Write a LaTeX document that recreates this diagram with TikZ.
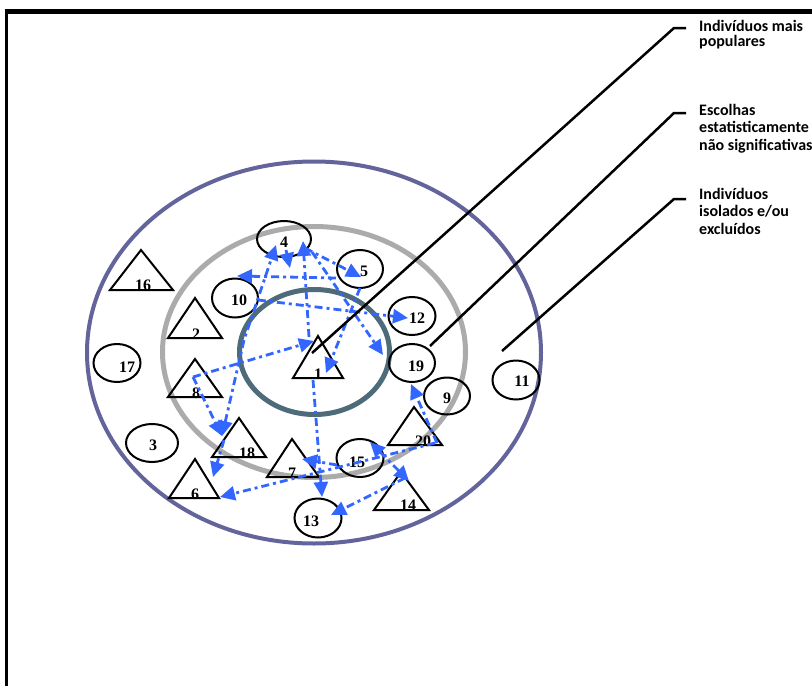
\documentclass[tikz,border=0pt]{standalone}
\usepackage{fontspec}
\setmainfont{Liberation Serif}
\newfontfamily\legfont{Carlito}
\usetikzlibrary{arrows.meta,calc,shapes.geometric}
\definecolor{ringout}{HTML}{64649C}
\definecolor{ringmid}{HTML}{ABABAB}
\definecolor{ringin}{HTML}{4D6B79}
\definecolor{arrblue}{HTML}{3366FF}
\begin{document}
\begin{tikzpicture}[x=1pt,y=-1pt,
  ell/.style n args={2}{draw=black, line width=2pt, ellipse, inner sep=0pt, minimum width=#1pt, minimum height=#2pt},
  tri/.style={draw=black, line width=2pt, line join=miter},
  numlbl/.style={font=\bfseries\fontsize{16}{16}\selectfont, inner sep=0pt},
  leglbl/.style={font=\legfont\bfseries\fontsize{16}{18}\selectfont, inner sep=0pt, anchor=base west},
  leg/.style={draw=black, line width=2.5pt},
  arr/.style={draw=arrblue, line width=2.8pt, dash pattern=on 8pt off 4pt on 3pt off 4pt, -{Triangle[length=15pt,width=14pt]}},
  arrboth/.style={draw=arrblue, line width=2.8pt, dash pattern=on 8pt off 4pt on 3pt off 4pt, {Triangle[length=15pt,width=14pt]}-{Triangle[length=15pt,width=14pt]}}
]
\fill[white] (0,0) rectangle (812,686);
\useasboundingbox (0,0) rectangle (812,686);
% frame
\draw[black, line width=4.5pt] (4.5,11.5) -- (812,11.5);
\draw[black, line width=3pt] (6,9.5) -- (6,686);
% rings
\draw[ringout, line width=4pt] (314,352.5) ellipse [x radius=227pt, y radius=191pt];
\draw[ringmid, line width=5pt] (314,352) ellipse [x radius=151.5pt, y radius=125.5pt];
\draw[ringin, line width=5pt] (314.5,352) ellipse [x radius=75pt, y radius=62.5pt];
% ellipse nodes
\node[ell={54}{36}] (e4) at (284,239) {};
\node[ell={46}{38}] (e5) at (360,269) {};
\node[ell={46}{39}] (e10) at (235,298) {};
\node[ell={47}{38}] (e12) at (412,316) {};
\node[ell={46}{38}] (e19) at (412,363) {};
\node[ell={46}{37}] (e9) at (447,396) {};
\node[ell={47}{39}] (e11) at (516,380) {};
\node[ell={47}{38}] (e17) at (117,363) {};
\node[ell={52}{38}] (e3) at (152,443) {};
\node[ell={47}{38}] (e15) at (360,458) {};
\node[ell={47}{39}] (e13) at (318,518) {};
% ellipse labels
\node[numlbl] (l4) at (284,242) {4};
\node[numlbl] (l5) at (364,271) {5};
\node[numlbl] (l10) at (239,300) {10};
\node[numlbl] (l12) at (417,318) {12};
\node[numlbl] (l19) at (416,366) {19};
\node[numlbl] (l9) at (447,398) {9};
\node[numlbl] (l11) at (522,381) {11};
\node[numlbl] (l17) at (127,367) {17};
\node[numlbl] (l3) at (153,445) {3};
\node[numlbl] (l15) at (357,462) {15};
\node[numlbl] (l13) at (311,521) {13};
% triangles
\draw[tri] (141,250) coordinate (t16) -- (110,290) -- (173,290) -- cycle;
\draw[tri] (195,298) coordinate (t2) -- (168,338) -- (222,338) -- cycle;
\draw[tri] (195,359) coordinate (t8) -- (168,397) -- (222,397) -- cycle;
\draw[tri] (318,336) coordinate (t1) -- (293,378) -- (343,378) -- cycle;
\draw[tri] (239,418) coordinate (t18) -- (212,457) -- (266,457) -- cycle;
\draw[tri] (292,439) coordinate (t7) -- (267,477) -- (319,477) -- cycle;
\draw[tri] (195,459) coordinate (t6) -- (169,498) -- (219,498) -- cycle;
\draw[tri] (414,407) coordinate (t20) -- (388,445) -- (442,445) -- cycle;
\draw[tri] (401,472) coordinate (t14) -- (374,510) -- (429,510) -- cycle;
% triangle labels
\node[numlbl, anchor=base] (l16) at (143,290) {16};
\node[numlbl, anchor=base] (l2) at (196,339) {2};
\node[numlbl, anchor=base] (l8) at (196,398) {8};
\node[numlbl, anchor=base] (l1) at (318,379) {1};
\node[numlbl, anchor=base] (l18) at (247,458) {18};
\node[numlbl, anchor=base] (l7) at (292,478) {7};
\node[numlbl, anchor=base] (l6) at (195,499) {6};
\node[numlbl, anchor=base] (l20) at (423,446) {20};
\node[numlbl, anchor=base] (l14) at (408,510) {14};
% arrows
\coordinate (k1) at (244,340);
\draw[arrboth] ($(t18)+(-17,18)$) -- (k1) -- ($(e4)+(-8,6)$);
\draw[arr] ($(t8)+(-2,18)$) -- ($(t18)+(-17,18)$);
\draw[arr] ($(t8)+(-2,18)$) -- ($(t1)+(-4,5)$);
\draw[arr] ($(t18)+(-15,22)$) -- ($(t6)+(18,18)$);
\draw[arr] ($(t20)+(21,36)$) -- ($(t6)+(25,38)$);
\draw[arr] ($(t20)+(23,36)$) -- ($(e19)+(-1,21)$);
\draw[arr] ($(t1)+(-5,44)$) -- ($(e13)+(4,-21)$);
\draw[arr] ($(e15)+(-23,7)$) -- ($(t7)+(10,20)$);
\draw[arr] ($(t14)+(4,6)$) -- ($(e13)+(13,-3)$);
\draw[arrboth] ($(t14)+(8,9)$) -- ($(e15)+(10,-16)$);
\draw[arr] ($(e4)+(21,9)$) -- ($(e5)+(1,8)$);
\draw[arr] ($(e4)+(28,13)$) -- ($(e19)+(-29,-8)$);
\draw[arr] ($(t1)+(-9,1)$) -- ($(e4)+(19,2)$);
\draw[arr] ($(e5)+(0,19)$) -- ($(t1)+(8,37)$);
\draw[arr] ($(e5)+(-24,9)$) -- ($(e10)+(2,-22)$);
\draw[arr] ($(e10)+(23,2)$) -- ($(e12)+(-4,2)$);
\draw[arr] ($(e4)+(2,11)$) -- ($(e4)+(6,29)$);
% legend
\node[leglbl] (g1a) at (699,31.5) {Indivíduos mais};
\node[leglbl] (g1b) at (699,46.5) {populares};
\node[leglbl] (g2a) at (699,115) {Escolhas};
\node[leglbl] (g2b) at (699,132.5) {estatisticamente};
\node[leglbl] (g2c) at (699,150) {não significativas};
\node[leglbl] (g3a) at (699,199) {Indivíduos};
\node[leglbl] (g3b) at (699,216.8) {isolados e/ou};
\node[leglbl] (g3c) at (699,234.6) {excluídos};
\coordinate (h1) at (686,28);
\coordinate (h2) at (686,113);
\coordinate (h3) at (686,199);
\coordinate (p3) at (502,351);
\draw[leg] ($(t1)+(-6,17)$) -- (674,28) -- (h1);
\draw[leg] ($(e19)+(18,-17)$) -- (674,113) -- (h2);
\draw[leg] (p3) -- (674,199) -- (h3);
\end{tikzpicture}
\end{document}
